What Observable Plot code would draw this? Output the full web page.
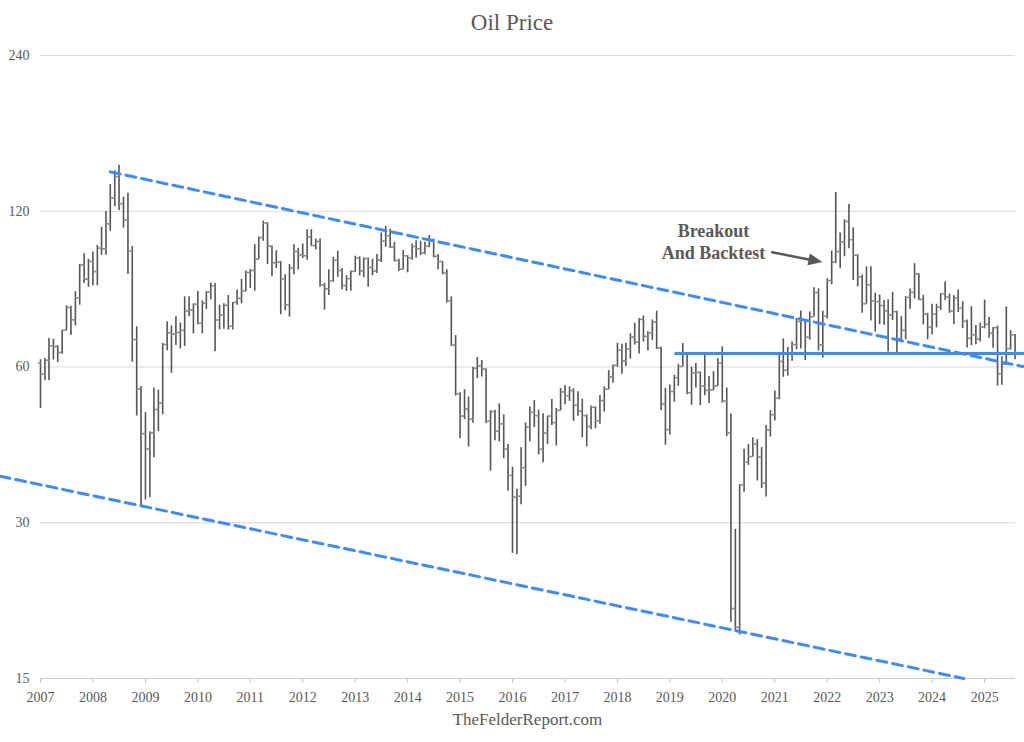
<!DOCTYPE html>
<html><head><meta charset="utf-8">
<script src="https://cdn.jsdelivr.net/npm/d3@7"></script>
<script src="https://cdn.jsdelivr.net/npm/@observablehq/plot@0.6"></script>
<style>
body{margin:0;background:#fff;}
#wrap{position:relative;width:1024px;height:742px;overflow:hidden;}
#chart{position:absolute;top:0;left:0;}
#title{position:absolute;top:10px;left:0;width:1024px;text-align:center;font:23px "Liberation Serif",serif;color:#595959;}
#caption{position:absolute;top:710px;left:40px;width:975px;text-align:center;font:17px "Liberation Serif",serif;color:#595959;}
</style></head><body>
<div id="wrap"><div id="chart"></div><div id="title">Oil Price</div><div id="caption">TheFelderReport.com</div></div>
<script>
// ---- data: monthly WTI OHLC, Jan 2007 .. Aug 2025 ----
const startYear = 2007;
const years = [2007,2008,2009,2010,2011,2012,2013,2014,2015,2016,2017,2018,2019,2020,2021,2022,2023,2024,2025];
const yTicks = [15,30,60,120,240];

const open = [
61.05,58.14,61.79,65.87,65.71,64.01,70.68,78.21,74.04,81.66,94.53,88.71,
96.00,91.75,101.84,101.58,113.46,127.35,140.00,124.08,115.46,100.64,67.81,54.43,
44.60,41.68,44.76,49.66,51.12,66.31,69.89,69.45,69.96,70.61,77.00,77.28,
79.36,72.89,79.66,83.76,86.15,73.97,75.63,78.95,71.92,79.97,81.43,84.11,
91.38,92.19,96.97,106.72,113.93,102.70,95.42,95.70,88.81,79.20,93.19,100.36,
98.83,98.48,107.07,103.02,104.87,86.53,84.96,88.06,96.47,92.19,86.24,88.91,
91.82,97.49,92.05,97.23,93.46,91.97,96.56,105.03,107.65,102.33,96.38,92.72,
98.42,97.49,102.59,101.58,99.74,102.71,105.37,98.17,95.96,91.16,80.54,66.15,
53.27,48.24,49.76,47.60,59.63,60.30,59.47,47.12,49.20,45.09,46.59,41.65,
37.04,33.62,33.75,38.34,45.92,49.10,48.33,41.60,44.70,48.24,46.86,49.44,
53.72,52.81,54.01,50.60,49.33,48.32,46.04,50.17,47.23,51.67,54.38,57.40,
60.42,64.73,61.64,64.94,68.57,67.04,74.15,68.76,69.80,73.25,65.31,50.93,
45.41,53.79,57.22,60.14,63.91,53.50,58.47,58.58,55.10,54.07,54.18,55.17,
61.06,51.56,44.76,20.48,18.84,35.49,39.27,40.27,42.61,40.22,35.79,45.34,
48.52,52.20,61.50,59.16,63.58,66.32,73.47,73.95,68.50,75.03,83.57,66.18,
75.21,88.15,95.72,100.28,104.69,114.67,105.76,98.62,89.55,79.49,86.53,80.55,
80.26,78.87,77.05,75.67,76.78,68.09,70.64,81.80,83.63,90.79,81.02,75.96,
71.65,75.85,78.26,83.17,81.93,76.99,81.54,77.91,73.55,68.17,69.26,68.00,
71.72,72.53,69.76,71.48,58.21,60.79,65.11,69.26];

const high = [
61.99,62.31,68.09,67.90,66.00,70.68,78.77,78.65,83.90,94.74,99.29,97.00,
100.09,103.05,111.80,119.93,135.09,143.67,147.27,127.77,130.00,102.56,71.74,55.00,
49.00,45.00,54.66,54.13,66.65,73.38,72.00,75.00,72.98,82.00,82.00,79.50,
83.95,80.51,84.00,87.15,87.00,79.00,79.50,82.50,80.00,84.50,88.63,92.00,
92.58,103.41,107.00,114.83,114.00,102.85,100.62,96.00,90.50,94.65,103.37,101.77,
103.74,110.55,110.55,106.00,106.00,87.00,92.50,97.75,100.42,93.00,90.00,92.00,
98.24,98.00,97.50,97.50,97.00,99.00,108.93,112.24,110.70,104.50,96.90,100.75,
98.50,103.75,105.22,104.99,104.50,107.68,106.00,99.00,96.00,92.50,82.00,69.00,
53.50,54.24,52.50,59.90,62.58,61.80,59.50,49.40,49.50,50.92,48.50,42.50,
38.40,34.82,41.90,46.78,50.21,51.67,49.50,48.75,48.20,51.93,49.90,54.51,
55.24,54.94,54.50,53.76,52.00,48.50,50.43,50.22,52.86,54.90,59.05,60.51,
66.66,66.40,66.66,69.56,72.90,74.46,75.27,70.20,73.98,76.90,65.60,54.55,
55.37,57.81,60.73,66.60,63.97,59.93,60.94,58.66,63.38,57.50,58.76,62.34,
65.65,54.66,48.66,29.13,35.58,41.63,42.51,43.78,43.43,41.93,46.26,49.43,
53.93,63.81,67.98,65.47,67.08,74.45,76.98,74.10,76.67,85.41,84.97,76.90,
88.84,100.54,130.50,108.98,115.54,123.68,111.45,98.90,90.39,93.64,93.74,83.34,
82.66,80.62,80.92,83.53,76.92,75.06,82.04,84.89,95.03,90.85,82.51,76.18,
79.29,79.34,83.12,87.67,83.00,82.38,84.52,80.20,74.00,78.46,72.20,72.93,
80.77,74.75,71.50,72.00,62.80,78.40,70.51,69.36];

const low = [
49.90,56.50,56.52,61.88,61.20,63.50,70.50,69.00,72.05,79.00,87.00,85.50,
86.11,86.11,98.65,98.65,109.75,122.48,120.42,111.34,90.51,61.30,48.25,32.40,
33.20,33.55,40.05,45.00,48.50,64.50,58.32,66.00,65.05,65.73,75.00,69.50,
72.43,69.50,77.50,80.90,64.24,70.80,71.00,70.70,70.76,79.00,79.50,84.00,
85.10,84.05,96.90,105.00,94.63,89.70,93.00,75.71,77.11,74.95,90.50,92.52,
97.25,96.50,102.50,101.00,85.60,77.28,82.50,87.50,89.50,84.60,84.00,84.05,
91.50,90.00,89.33,85.61,90.00,91.00,95.50,102.20,101.70,95.75,91.77,92.50,
91.24,96.50,97.37,98.50,98.84,102.00,97.50,92.50,90.43,79.78,65.69,52.70,
43.58,47.50,42.03,46.70,57.00,57.38,46.68,37.75,43.21,43.00,39.91,34.53,
26.19,26.05,32.50,35.24,43.03,45.83,40.57,39.19,42.52,46.25,42.20,49.40,
50.71,51.50,47.09,48.18,43.76,42.05,45.40,45.58,46.50,49.10,54.20,55.82,
59.90,58.07,60.16,62.15,66.15,63.59,67.03,64.43,67.50,64.86,49.41,42.36,
44.35,51.33,55.07,60.00,53.05,50.60,54.66,50.52,52.82,50.99,54.00,55.00,
51.09,44.00,19.27,18.50,18.20,34.36,38.72,40.20,36.13,34.92,33.64,43.92,
47.18,51.83,57.32,57.63,61.56,64.75,65.01,61.74,67.58,74.93,64.43,62.43,
74.27,86.55,95.00,92.93,98.00,101.53,88.23,85.73,76.25,79.32,73.60,70.08,
72.46,72.25,64.12,73.83,63.57,66.80,67.71,77.59,81.24,80.62,72.37,67.71,
69.28,71.41,77.12,80.70,76.20,72.48,76.45,71.17,65.27,66.01,66.25,67.04,
71.10,68.20,65.22,55.12,55.30,60.50,64.70,61.94];

const close = [
58.14,61.79,65.87,65.71,64.01,70.68,78.21,74.04,81.66,94.53,88.71,95.98,
91.75,101.84,101.58,113.46,127.35,140.00,124.08,115.46,100.64,67.81,54.43,44.60,
41.68,44.76,49.66,51.12,66.31,69.89,69.45,69.96,70.61,77.00,77.28,79.36,
72.89,79.66,83.76,86.15,73.97,75.63,78.95,71.92,79.97,81.43,84.11,91.38,
92.19,96.97,106.72,113.93,102.70,95.42,95.70,88.81,79.20,93.19,100.36,98.83,
98.48,107.07,103.02,104.87,86.53,84.96,88.06,96.47,92.19,86.24,88.91,91.82,
97.49,92.05,97.23,93.46,91.97,96.56,105.03,107.65,102.33,96.38,92.72,98.42,
97.49,102.59,101.58,99.74,102.71,105.37,98.17,95.96,91.16,80.54,66.15,53.27,
48.24,49.76,47.60,59.63,60.30,59.47,47.12,49.20,45.09,46.59,41.65,37.04,
33.62,33.75,38.34,45.92,49.10,48.33,41.60,44.70,48.24,46.86,49.44,53.72,
52.81,54.01,50.60,49.33,48.32,46.04,50.17,47.23,51.67,54.38,57.40,60.42,
64.73,61.64,64.94,68.57,67.04,74.15,68.76,69.80,73.25,65.31,50.93,45.41,
53.79,57.22,60.14,63.91,53.50,58.47,58.58,55.10,54.07,54.18,55.17,61.06,
51.56,44.76,20.48,18.84,35.49,39.27,40.27,42.61,40.22,35.79,45.34,48.52,
52.20,61.50,59.16,63.58,66.32,73.47,73.95,68.50,75.03,83.57,66.18,75.21,
88.15,95.72,100.28,104.69,114.67,105.76,98.62,89.55,79.49,86.53,80.55,80.26,
78.87,77.05,75.67,76.78,68.09,70.64,81.80,83.63,90.79,81.02,75.96,71.65,
75.85,78.26,83.17,81.93,76.99,81.54,77.91,73.55,68.17,69.26,68.00,71.72,
72.53,69.76,71.48,58.21,60.79,65.11,69.26,64.01];

// trend lines (date, price) drawn by hand on the original
const upperTrend = [{date: "2008-05-01", price: 143}, {date: "2025-10-08", price: 60}];
const lowerTrend = [{date: "2006-03-25", price: 36.9}, {date: "2024-08-09", price: 15}];
const supportLine = [{date: "2019-02-10", price: 63.7}, {date: "2025-10-08", price: 63.7}];
const annotation = [{date: "2019-11-01", price: 105.3, label: "Breakout\nAnd Backtest"}];
const arrowShaft = [{date: "2020-12-14", price: 100.0}, {date: "2021-08-24", price: 96.8}];
const arrowTip = [{date: "2021-11-28", price: 95.7}];

// ---- build ----
const bars = open.map((o, i) => ({
  date: new Date(Date.UTC(startYear, i, 1)),
  open: o, high: high[i], low: low[i], close: close[i]
}));
const toDate = (arr) => arr.map(d => ({...d, date: new Date(d.date + "T00:00:00Z")}));
const yearDates = years.map(y => new Date(Date.UTC(y, 0, 1)));

const leftTick = {draw(ctx, size) { const r = Math.sqrt(size / Math.PI); ctx.moveTo(-r, 0); ctx.lineTo(0, 0); }};
const rightTick = {draw(ctx, size) { const r = Math.sqrt(size / Math.PI); ctx.moveTo(0, 0); ctx.lineTo(r, 0); }};
const headSym = {draw(ctx, size) { const r = Math.sqrt(size / Math.PI); ctx.moveTo(0, 0); ctx.lineTo(-2 * r, -0.85 * r); ctx.lineTo(-2 * r, 0.85 * r); ctx.closePath(); }};

const blue = "#3d8bff";
const chart = Plot.plot({
  width: 1024,
  height: 742,
  marginTop: 55,
  marginBottom: 64,
  marginLeft: 40,
  marginRight: 9,
  style: {fontFamily: "'Liberation Serif', serif", fontSize: "14px", color: "#595959", background: "transparent"},
  x: {type: "utc", domain: [new Date(Date.UTC(2007, 0, 1)), new Date(Date.UTC(2025, 7, 4))]},
  y: {type: "log", base: 2, domain: [15, 240]},
  marks: [
    Plot.gridY(yTicks, {stroke: "#d9d9d9", strokeOpacity: 1}),
    Plot.ruleY([15], {stroke: "#c8c8c8"}),
    Plot.axisY({ticks: yTicks, tickSize: 0, tickPadding: 11, tickFormat: d => String(d), label: null}),
    Plot.axisX({ticks: yearDates, tickFormat: "%Y", tickSize: 5, tickPadding: 9, stroke: "#c8c8c8", label: null}),
    Plot.ruleX(bars, {x: "date", y1: "low", y2: "high", stroke: "#555555", strokeWidth: 1.6}),
    Plot.dot(bars, {x: "date", y: "open", symbol: leftTick, r: 2.8, stroke: "#8c8c8c", fill: "none", strokeWidth: 1.4}),
    Plot.dot(bars, {x: "date", y: "close", symbol: rightTick, r: 2.8, stroke: "#8c8c8c", fill: "none", strokeWidth: 1.4}),
    Plot.line(toDate(upperTrend), {x: "date", y: "price", stroke: blue, strokeWidth: 3, strokeDasharray: "10,6"}),
    Plot.line(toDate(lowerTrend), {x: "date", y: "price", stroke: blue, strokeWidth: 3, strokeDasharray: "10,6"}),
    Plot.line(toDate(supportLine), {x: "date", y: "price", stroke: blue, strokeWidth: 3}),
    Plot.text(toDate(annotation), {x: "date", y: "price", text: "label", fontWeight: "bold", fontSize: 18, lineHeight: 1.25, fill: "#595959", fontFamily: "'Liberation Serif', serif"}),
    Plot.line(toDate(arrowShaft), {x: "date", y: "price", stroke: "#595959", strokeWidth: 2.5}),
    Plot.dot(toDate(arrowTip), {x: "date", y: "price", symbol: headSym, r: 7, fill: "#595959", stroke: "none", rotate: 11.3})
  ]
});
document.getElementById("chart").appendChild(chart);
</script>
</body></html>
